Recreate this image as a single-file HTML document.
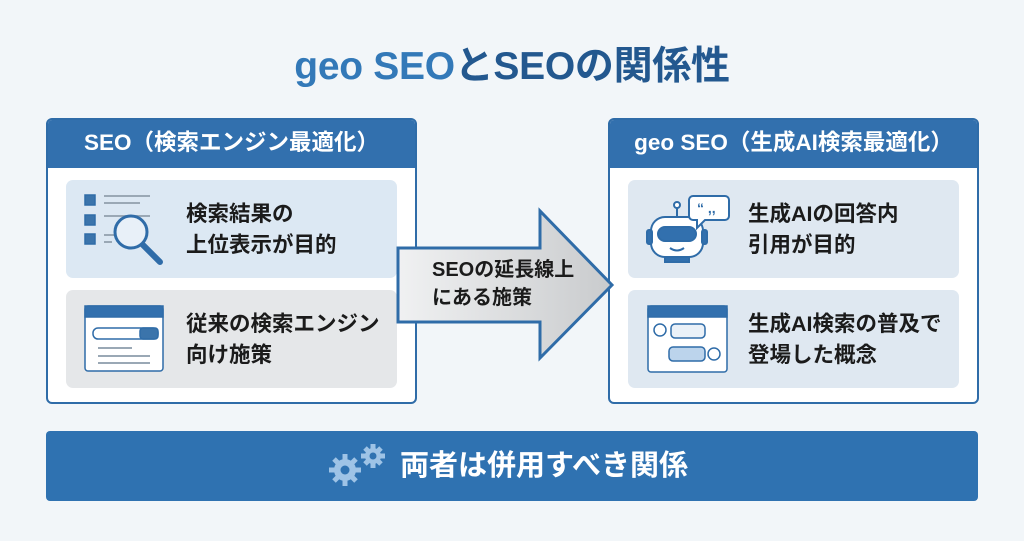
<!DOCTYPE html>
<html><head><meta charset="utf-8"><style>
*{margin:0;padding:0;box-sizing:border-box}
body{width:1024px;height:541px;background:#f2f6f9;position:relative;overflow:hidden;font-family:"Liberation Sans","Noto Sans CJK JP",sans-serif;font-weight:bold}
.abs{position:absolute}
.title{left:0;width:1024px;top:35px;text-align:center;font-size:39px;color:#23588f;letter-spacing:-0.3px}
.title span{color:#3379b8}
.box{border:2px solid #2f6ca8;border-radius:6px;background:#fff;overflow:hidden}
.hdr{position:absolute;left:0;top:0;right:0;height:48px;background:#3270ae;color:#fff;font-size:22.5px;text-align:center;line-height:46px;white-space:nowrap}
.card{border-radius:7px}
.txt{font-size:21.5px;line-height:31px;color:#1b1b1b;white-space:nowrap}
.bar{left:46px;top:431px;width:932px;height:70px;background:#2f72b1;border-radius:4px;color:#fff;font-size:29px;line-height:70px}
</style></head><body>
<div class="abs title"><span>geo SEO</span>とSEOの関係性</div>

<div class="abs box" style="left:46px;top:118px;width:371px;height:286px">
<div class="hdr">SEO（検索エンジン最適化）</div>
</div>
<div class="abs card" style="left:66px;top:180px;width:331px;height:98px;background:#dce8f3"></div>
<div class="abs card" style="left:66px;top:290px;width:331px;height:98px;background:#e5e7e9"></div>

<div class="abs box" style="left:608px;top:118px;width:371px;height:286px">
<div class="hdr">geo SEO（生成AI検索最適化）</div>
</div>
<div class="abs card" style="left:628px;top:180px;width:331px;height:98px;background:#dfe8f1"></div>
<div class="abs card" style="left:628px;top:290px;width:331px;height:98px;background:#dfe8f1"></div>

<div class="abs bar"><span style="position:absolute;left:354px">両者は併用すべき関係</span></div>

<svg class="abs" style="left:0;top:0" width="1024" height="541">
<defs><linearGradient id="ag" x1="0" x2="1"><stop offset="0" stop-color="#f0f1f2"/><stop offset="1" stop-color="#c9cbcd"/></linearGradient></defs>
<polygon points="398,248 540,248 540,211 612,285 540,358 540,322 398,322" fill="url(#ag)" stroke="#2f6ca8" stroke-width="3"/>
<g stroke="#2f6ca8" fill="none" stroke-width="1.5">
<rect x="85" y="195" width="10" height="10" fill="#3b74ab"/><rect x="85" y="215" width="10" height="10" fill="#3b74ab"/><rect x="85" y="234" width="10" height="10" fill="#3b74ab"/>
<g stroke="#9aa8b5" stroke-width="2"><line x1="104" y1="196" x2="150" y2="196"/><line x1="104" y1="203" x2="140" y2="203"/><line x1="104" y1="216" x2="150" y2="216"/><line x1="104" y1="235" x2="114" y2="235"/><line x1="104" y1="242" x2="112" y2="242"/></g>
<circle cx="131" cy="232" r="16" stroke-width="3" fill="#e8f0f8"/>
<line x1="143" y1="245" x2="160" y2="262" stroke-width="6" stroke-linecap="round"/>
</g>
<g stroke="#2f6ca8" fill="none" stroke-width="1.5">
<rect x="85" y="306" width="78" height="65" rx="3" fill="#fff"/>
<rect x="85" y="306" width="78" height="11" fill="#3270ae"/>
<rect x="93" y="328" width="65" height="11" rx="5"/><rect x="140" y="328" width="18" height="11" rx="3" fill="#3b74ab"/>
<g stroke="#9aa8b5" stroke-width="2"><line x1="98" y1="348" x2="132" y2="348"/><line x1="98" y1="356" x2="150" y2="356"/><line x1="98" y1="363" x2="150" y2="363"/></g>
</g>
<g stroke="#2f6ca8" stroke-width="2" fill="#fff">
<line x1="677" y1="207" x2="677" y2="217"/><circle cx="677" cy="205" r="3"/>
<rect x="651" y="217" width="52" height="40" rx="14"/>
<rect x="658" y="227" width="38" height="14" rx="7" fill="#3270ae"/>
<rect x="647" y="230" width="5" height="14" rx="2" fill="#3270ae"/><rect x="702" y="230" width="5" height="14" rx="2" fill="#3270ae"/>
<path d="M670 248 q7 5 14 0" fill="none"/>
<rect x="665" y="257" width="24" height="5" fill="#3270ae"/>
<path d="M693 196 h32 a4 4 0 0 1 4 4 v16 a4 4 0 0 1 -4 4 h-20 l-8 8 v-8 h-4 a4 4 0 0 1 -4 -4 v-16 a4 4 0 0 1 4 -4z"/>
</g>
<text x="697" y="213" font-size="14" fill="#2f6ca8">“ ,,</text>
<g stroke="#2f6ca8" stroke-width="1.5" fill="#fff">
<rect x="648" y="306" width="79" height="66" rx="3"/>
<rect x="648" y="306" width="79" height="11" fill="#3270ae"/>
<circle cx="660" cy="330" r="6"/><rect x="671" y="324" width="34" height="14" rx="4" fill="#eaf1f8"/>
<rect x="669" y="347" width="36" height="14" rx="4" fill="#bcd4ec"/><circle cx="714" cy="354" r="6"/>
</g>
<g fill="#9ec3e6">
<circle cx="345" cy="470" r="11"/><circle cx="373" cy="456" r="8"/>
<g stroke="#9ec3e6" stroke-width="5"><line x1="345" y1="454" x2="345" y2="486"/><line x1="329" y1="470" x2="361" y2="470"/><line x1="334" y1="459" x2="356" y2="481"/><line x1="356" y1="459" x2="334" y2="481"/>
<line x1="373" y1="444" x2="373" y2="468"/><line x1="361" y1="456" x2="385" y2="456"/><line x1="365" y1="448" x2="381" y2="464"/><line x1="381" y1="448" x2="365" y2="464"/></g>
<circle cx="345" cy="470" r="4.5" fill="#2f72b1"/><circle cx="373" cy="456" r="3.5" fill="#2f72b1"/>
</g>
</svg>

<div class="abs txt" style="left:186px;top:199px">検索結果の<br>上位表示が目的</div>
<div class="abs txt" style="left:186px;top:309px">従来の検索エンジン<br>向け施策</div>
<div class="abs txt" style="left:748px;top:199px">生成AIの回答内<br>引用が目的</div>
<div class="abs txt" style="left:748px;top:309px">生成AI検索の普及で<br>登場した概念</div>
<div class="abs txt" style="left:432px;top:256px;font-size:20px;line-height:28px">SEOの延長線上<br>にある施策</div>
</body></html>
